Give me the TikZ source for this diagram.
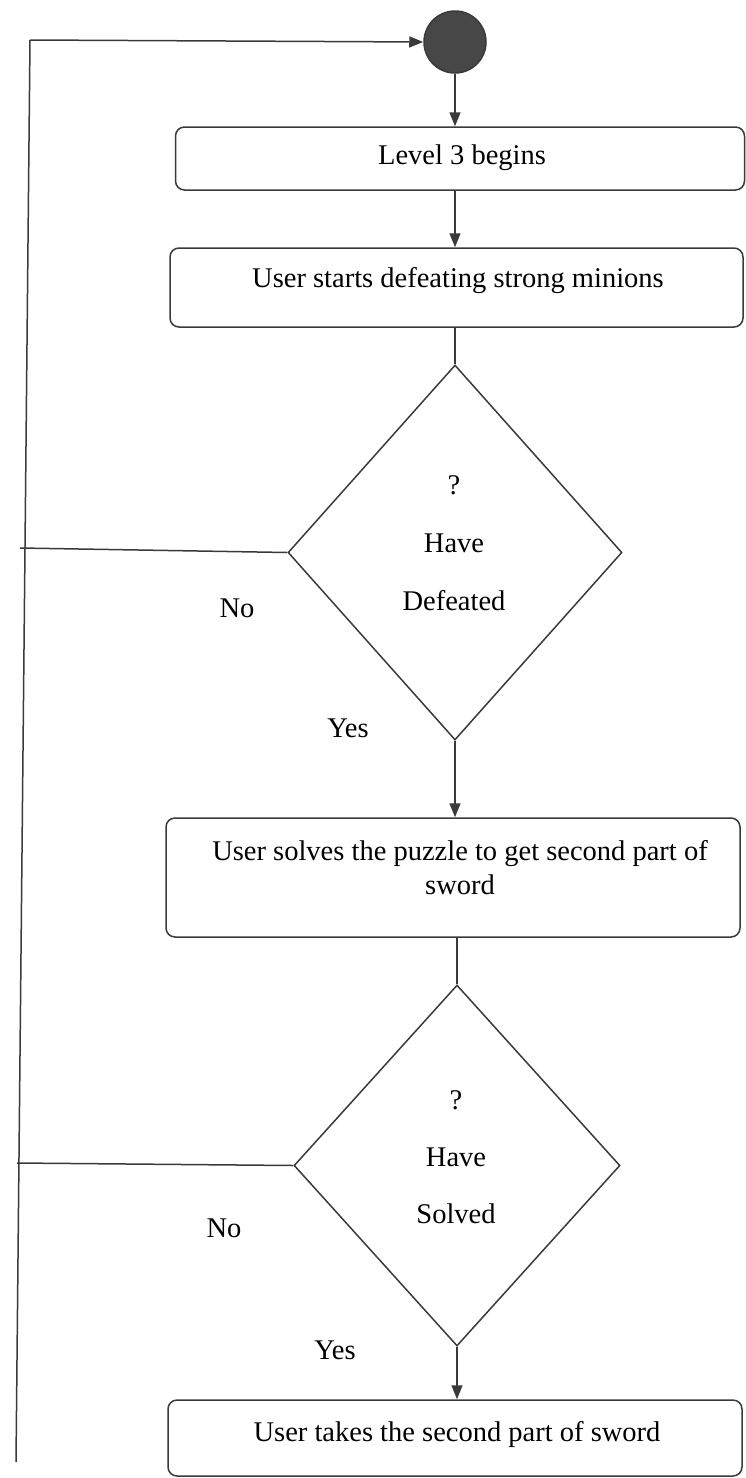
\documentclass[tikz,border=0pt]{standalone}
\usepackage{fontspec}
\setmainfont{Liberation Serif}
\usetikzlibrary{arrows.meta,shapes.geometric}
\definecolor{ln}{HTML}{3A3A3A}
\definecolor{fillc}{HTML}{474747}
\begin{document}
\begin{tikzpicture}[x=1pt,y=-1pt,
  line width=1.5pt, draw=ln,
  box/.style={draw=ln, rounded corners=9pt, inner sep=0pt},
  dia/.style={draw=ln, diamond, inner sep=0pt},
  txt/.style={font=\fontsize{28.5}{34}\selectfont, text=black, inner sep=0pt},
  arr/.style={-{Triangle[width=11pt,length=14pt]}, draw=ln, fill=ln},
  plain/.style={draw=ln}
]
\useasboundingbox (0,0) rectangle (745,1478);
% start
\node[circle, fill=fillc, draw=ln, minimum size=62pt, inner sep=0pt] (start) at (455,42) {};
% boxes
\node[box, minimum width=569pt, minimum height=63pt] (b1) at (460,158.5) {};
\node[txt] (t1) at (462,158) {Level 3 begins};
\node[box, minimum width=573pt, minimum height=79pt] (b2) at (456.5,287.5) {};
\node[txt] (t2) at (458,281) {User starts defeating strong minions};
\node[box, minimum width=574pt, minimum height=119pt] (b3) at (453,877.5) {};
\node[txt, align=center] (t3) at (460,868) {User solves the puzzle to get second part of\\sword};
\node[box, minimum width=574pt, minimum height=76pt] (b4) at (455,1438) {};
\node[txt] (t4) at (457,1434) {User takes the second part of sword};
% diamonds
\node[dia, minimum width=334pt, minimum height=375pt] (d1) at (455,552.5) {};
\node[txt, align=center] (dt1) at (454,543) {?\\[24pt]Have\\[24pt]Defeated};
\node[dia, minimum width=326pt, minimum height=361pt] (d2) at (457,1165.5) {};
\node[txt, align=center] (dt2) at (456,1157) {?\\[23pt]Have\\[23pt]Solved};
% labels
\node[txt] (no1) at (237,608) {No};
\node[txt] (yes1) at (348,728) {Yes};
\node[txt] (no2) at (224,1228) {No};
\node[txt] (yes2) at (335,1350) {Yes};
% loop coordinates
\coordinate (ct) at (30,40);
\coordinate (cb) at (16,1462);
\coordinate (c1) at (20,548);
\coordinate (c2) at (17,1163);
% connectors
\draw[arr] (start.south) -- (start.south |- b1.north);
\draw[arr] (start.south |- b1.south) -- (start.south |- b2.north);
\draw[plain] (d1.north |- b2.south) -- (d1.north);
\draw[arr] (d1.south) -- (d1.south |- b3.north);
\draw[plain] (d2.north |- b3.south) -- (d2.north);
\draw[arr] (d2.south) -- (d2.south |- b4.north);
\draw[plain] (d1.west) -- (c1);
\draw[plain] (d2.west) -- (c2);
\draw[plain] (cb) -- (ct);
\draw[arr] (ct) -- (start.west);
\end{tikzpicture}
\end{document}
